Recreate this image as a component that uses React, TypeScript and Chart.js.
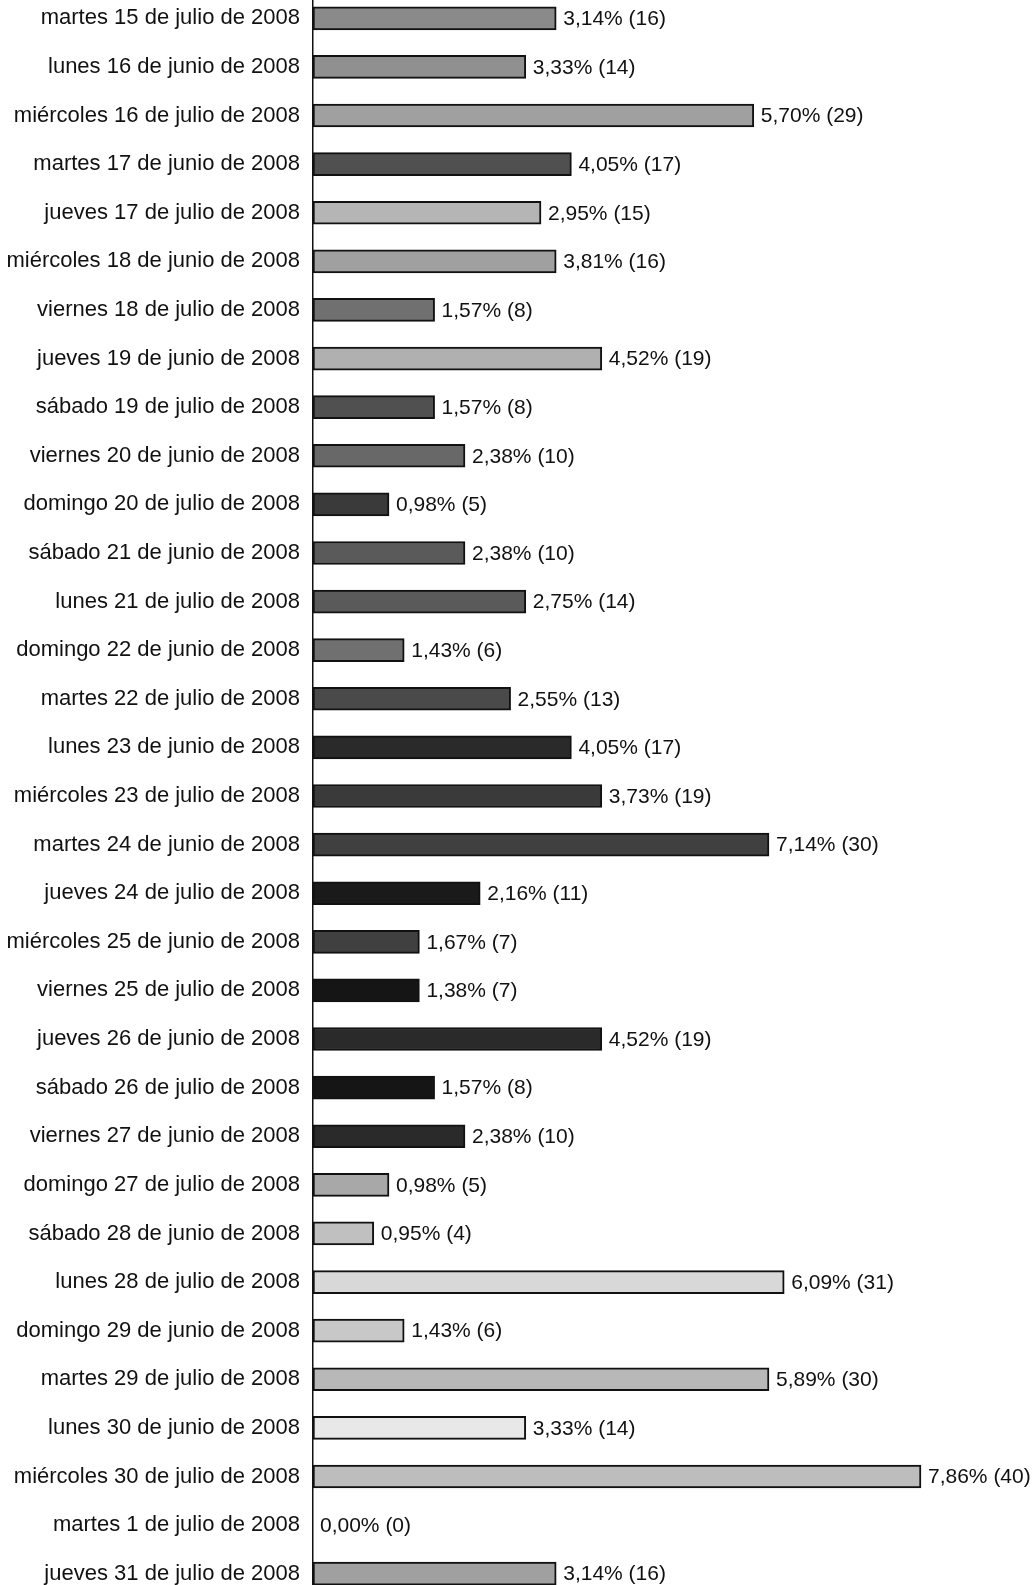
import React, { useEffect, useRef } from "react";
import { Chart, registerables } from "chart.js";
Chart.register(...registerables);

const categories = [
  "martes 15 de julio de 2008",
  "lunes 16 de junio de 2008",
  "miércoles 16 de julio de 2008",
  "martes 17 de junio de 2008",
  "jueves 17 de julio de 2008",
  "miércoles 18 de junio de 2008",
  "viernes 18 de julio de 2008",
  "jueves 19 de junio de 2008",
  "sábado 19 de julio de 2008",
  "viernes 20 de junio de 2008",
  "domingo 20 de julio de 2008",
  "sábado 21 de junio de 2008",
  "lunes 21 de julio de 2008",
  "domingo 22 de junio de 2008",
  "martes 22 de julio de 2008",
  "lunes 23 de junio de 2008",
  "miércoles 23 de julio de 2008",
  "martes 24 de junio de 2008",
  "jueves 24 de julio de 2008",
  "miércoles 25 de junio de 2008",
  "viernes 25 de julio de 2008",
  "jueves 26 de junio de 2008",
  "sábado 26 de julio de 2008",
  "viernes 27 de junio de 2008",
  "domingo 27 de julio de 2008",
  "sábado 28 de junio de 2008",
  "lunes 28 de julio de 2008",
  "domingo 29 de junio de 2008",
  "martes 29 de julio de 2008",
  "lunes 30 de junio de 2008",
  "miércoles 30 de julio de 2008",
  "martes 1 de julio de 2008",
  "jueves 31 de julio de 2008",
];

const counts = [
  16, 14, 29, 17, 15, 16, 8, 19, 8, 10, 5, 10, 14, 6, 13, 17, 19, 30, 11, 7, 7,
  19, 8, 10, 5, 4, 31, 6, 30, 14, 40, 0, 16,
];

const percents = [
  "3,14", "3,33", "5,70", "4,05", "2,95", "3,81", "1,57", "4,52", "1,57", "2,38",
  "0,98", "2,38", "2,75", "1,43", "2,55", "4,05", "3,73", "7,14", "2,16", "1,67",
  "1,38", "4,52", "1,57", "2,38", "0,98", "0,95", "6,09", "1,43", "5,89", "3,33",
  "7,86", "0,00", "3,14",
];

const shades = [
  "#8a8a8a", "#909090", "#a0a0a0", "#505050", "#b5b5b5", "#a0a0a0", "#707070",
  "#b0b0b0", "#505050", "#686868", "#3a3a3a", "#5a5a5a", "#5a5a5a", "#707070",
  "#4a4a4a", "#2a2a2a", "#3a3a3a", "#404040", "#1a1a1a", "#404040", "#151515",
  "#2a2a2a", "#151515", "#2a2a2a", "#a8a8a8", "#c0c0c0", "#d8d8d8", "#c8c8c8",
  "#b8b8b8", "#e8e8e8", "#bdbdbd", "#ffffff", "#a0a0a0",
];

const FONT_FAMILY = "'Liberation Sans', Arial, Helvetica, sans-serif";
const LABEL_SIZE = 22;
const VALUE_SIZE = 21;

const valueLabels = {
  id: "valueLabels",
  afterDatasetsDraw(chart: any) {
    const { ctx } = chart;
    const meta = chart.getDatasetMeta(0);
    ctx.save();
    ctx.font = `${VALUE_SIZE}px ${FONT_FAMILY}`;
    ctx.fillStyle = "#111";
    ctx.textBaseline = "middle";
    ctx.textAlign = "left";
    meta.data.forEach((bar: any, i: number) => {
      ctx.fillText(`${percents[i]}% (${counts[i]})`, bar.x + 7, bar.y + 1);
    });
    ctx.restore();
  },
};

export default function App() {
  const ref = useRef<HTMLCanvasElement | null>(null);
  useEffect(() => {
    if (!ref.current) return;
    const chart = new Chart(ref.current, {
      type: "bar",
      data: {
        labels: categories,
        datasets: [
          {
            data: counts,
            backgroundColor: shades,
            borderColor: "#111",
            borderWidth: 2,
            borderSkipped: false,
            barThickness: 23,
          },
        ],
      },
      options: {
        indexAxis: "y",
        animation: false,
        responsive: false,
        layout: { padding: 0 },
        plugins: {
          legend: { display: false },
          tooltip: { enabled: false },
        },
        scales: {
          x: {
            display: false,
            min: 0,
            max: 47.5,
          },
          y: {
            afterFit: (scale: any) => {
              scale.width = 313;
              scale.paddingTop = 0;
              scale.paddingBottom = 0;
            },
            grid: { display: false, drawTicks: false },
            border: { display: true, color: "#111", width: 1.5 },
            ticks: {
              color: "#111",
              padding: 13,
              font: { family: FONT_FAMILY, size: LABEL_SIZE },
              autoSkip: false,
            },
          },
        },
      },
      plugins: [valueLabels],
    });
    return () => chart.destroy();
  }, []);
  return (
    <div
      style={{
        position: "absolute",
        left: 0,
        top: 0,
        width: 1035,
        height: 1585,
        overflow: "hidden",
        background: "#fff",
      }}
    >
      <canvas
        ref={ref}
        width={1035}
        height={1604}
        style={{ position: "absolute", left: 0, top: -6, width: 1035, height: 1604 }}
      />
    </div>
  );
}
